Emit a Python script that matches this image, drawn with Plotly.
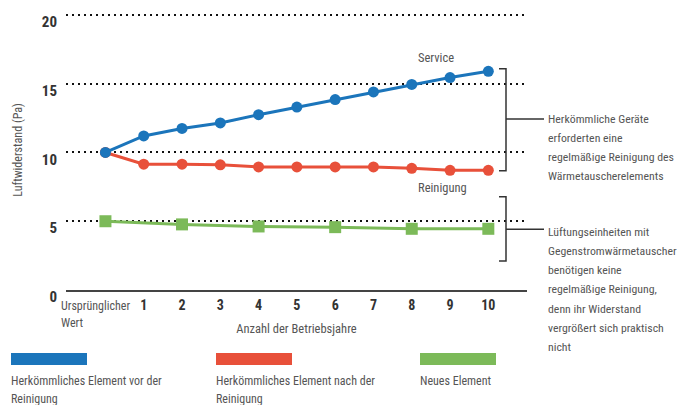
import plotly.graph_objects as go

# ---- data ----
years = [0, 1, 2, 3, 4, 5, 6, 7, 8, 9, 10]
x_ticktext = ["", "1", "2", "3", "4", "5", "6", "7", "8", "9", "10"]
before_cleaning = [10.0, 11.2, 11.75, 12.15, 12.75, 13.3, 13.85, 14.4, 14.95, 15.45, 15.9]
after_cleaning = [10.0, 9.15, 9.15, 9.1, 8.95, 8.95, 8.95, 8.95, 8.85, 8.7, 8.7]
new_years = [0, 2, 4, 6, 8, 10]
new_element = [5.0, 4.77, 4.62, 4.57, 4.45, 4.45]
y_ticks = [0, 5, 10, 15, 20]

series_lines = [["Herkömmliches Element vor der", "Reinigung"],
                ["Herkömmliches Element nach der", "Reinigung"],
                ["Neues Element"]]
series_names = ["<br>".join(s) for s in series_lines]
colors = ["#1b75bb", "#e8503a", "#7cba59"]

note_cleaning = ["Herkömmliche Geräte", "erforderten eine",
                 "regelmäßige Reinigung des", "Wärmetauscherelements"]
note_new = ["Lüftungseinheiten mit", "Gegenstromwärmetauscher", "benötigen keine",
            "regelmäßige Reinigung,", "denn ihr Widerstand",
            "vergrößert sich praktisch", "nicht"]

# ---- layout constants (page has an 8px body margin) ----
OFF = 8
W, H = 689 - OFF, 405 - OFF
ML, MR, MT, MB = 58, 162, 2, 115
PW = W - ML - MR
PH = H - MT - MB
FONT = "Roboto Condensed, DejaVu Sans Condensed, Roboto, sans-serif"
TXT = "#555555"


def px(x):
    return (x - OFF - ML) / PW


def py(y):
    return (H - MB - (y - OFF)) / PH


fig = go.Figure()
fig.add_trace(go.Scatter(x=new_years, y=new_element, mode="lines+markers",
                         line=dict(color=colors[2], width=3),
                         marker=dict(symbol="square", size=12, color=colors[2]),
                         name=series_names[2]))
fig.add_trace(go.Scatter(x=years, y=after_cleaning, mode="lines+markers",
                         line=dict(color=colors[1], width=3),
                         marker=dict(symbol="circle", size=11, color=colors[1]),
                         name=series_names[1]))
fig.add_trace(go.Scatter(x=years, y=before_cleaning, mode="lines+markers",
                         line=dict(color=colors[0], width=3),
                         marker=dict(symbol="circle", size=11, color=colors[0]),
                         name=series_names[0]))

shapes = []
annotations = []


def bracket(top, bottom, mid):
    xl, xr, xm = px(499), px(506), px(544)
    shapes.append(dict(type="path", xref="paper", yref="paper",
                       path=f"M {xl} {py(top)} L {xr} {py(top)} L {xr} {py(bottom)} L {xl} {py(bottom)}",
                       line=dict(color="#333333", width=1.5)))
    shapes.append(dict(type="line", xref="paper", yref="paper",
                       x0=xr, x1=xm, y0=py(mid), y1=py(mid),
                       line=dict(color="#333333", width=1.5)))


bracket(68.7, 170.7, 119)
bracket(196.7, 261, 229.3)


def text_lines(lines, x, y0, step, size):
    for k, t in enumerate(lines):
        annotations.append(dict(xref="paper", yref="paper", x=px(x), y=py(y0 + k * step),
                                xanchor="left", yanchor="middle", align="left",
                                showarrow=False, text=t,
                                font=dict(family=FONT, size=size, color=TXT)))


text_lines(note_cleaning, 546, 119, 19, 11.8)
text_lines(note_new, 546, 231.5, 19.3, 11.8)

annotations.append(dict(xref="paper", yref="paper", x=px(436), y=py(58),
                        xanchor="center", yanchor="middle", showarrow=False, text="Service",
                        font=dict(family=FONT, size=12.5, color=TXT)))
annotations.append(dict(xref="paper", yref="paper", x=px(442), y=py(187),
                        xanchor="center", yanchor="middle", showarrow=False, text="Reinigung",
                        font=dict(family=FONT, size=12.5, color=TXT)))

text_lines(["Ursprünglicher", "Wert"], 59, 306, 17, 12)

leg_x = [11, 216, 420]
for i in range(3):
    shapes.append(dict(type="rect", xref="paper", yref="paper",
                       x0=px(leg_x[i]), x1=px(leg_x[i] + 76), y0=py(365), y1=py(353),
                       fillcolor=colors[i], line=dict(width=0)))
    text_lines(series_lines[i], leg_x[i] - 2, 380.5, 18.5, 12)

fig.update_layout(
    width=W, height=H,
    margin=dict(l=ML, r=MR, t=MT, b=MB),
    paper_bgcolor="white", plot_bgcolor="white",
    showlegend=False,
    shapes=shapes, annotations=annotations,
    font=dict(family=FONT, color=TXT),
    xaxis=dict(range=[-1.03, 11.01], tickvals=years, ticktext=x_ticktext,
               showgrid=False, zeroline=False, automargin=False,
               showline=True, linecolor="#444444", linewidth=2,
               ticks="", ticklabelstandoff=1,
               tickfont=dict(family=FONT, size=14, color="#333333", weight="bold"),
               title=dict(text="Anzahl der Betriebsjahre", standoff=12,
                          font=dict(family=FONT, size=12.5, color=TXT))),
    yaxis=dict(range=[0, 20.36], tickvals=y_ticks, automargin=False,
               showgrid=True, gridcolor="#111111", gridwidth=1.5, griddash="2px,4px",
               zeroline=False, showline=False, ticks="", ticklabelstandoff=8,
               ticklabelshift=7, ticklabeloverflow="allow",
               tickfont=dict(family=FONT, size=15, color="#333333", weight="bold"),
               title=dict(text="Luftwiderstand (Pa)", standoff=16,
                          font=dict(family=FONT, size=12, color=TXT))),
)

fig.write_html("out.html")
